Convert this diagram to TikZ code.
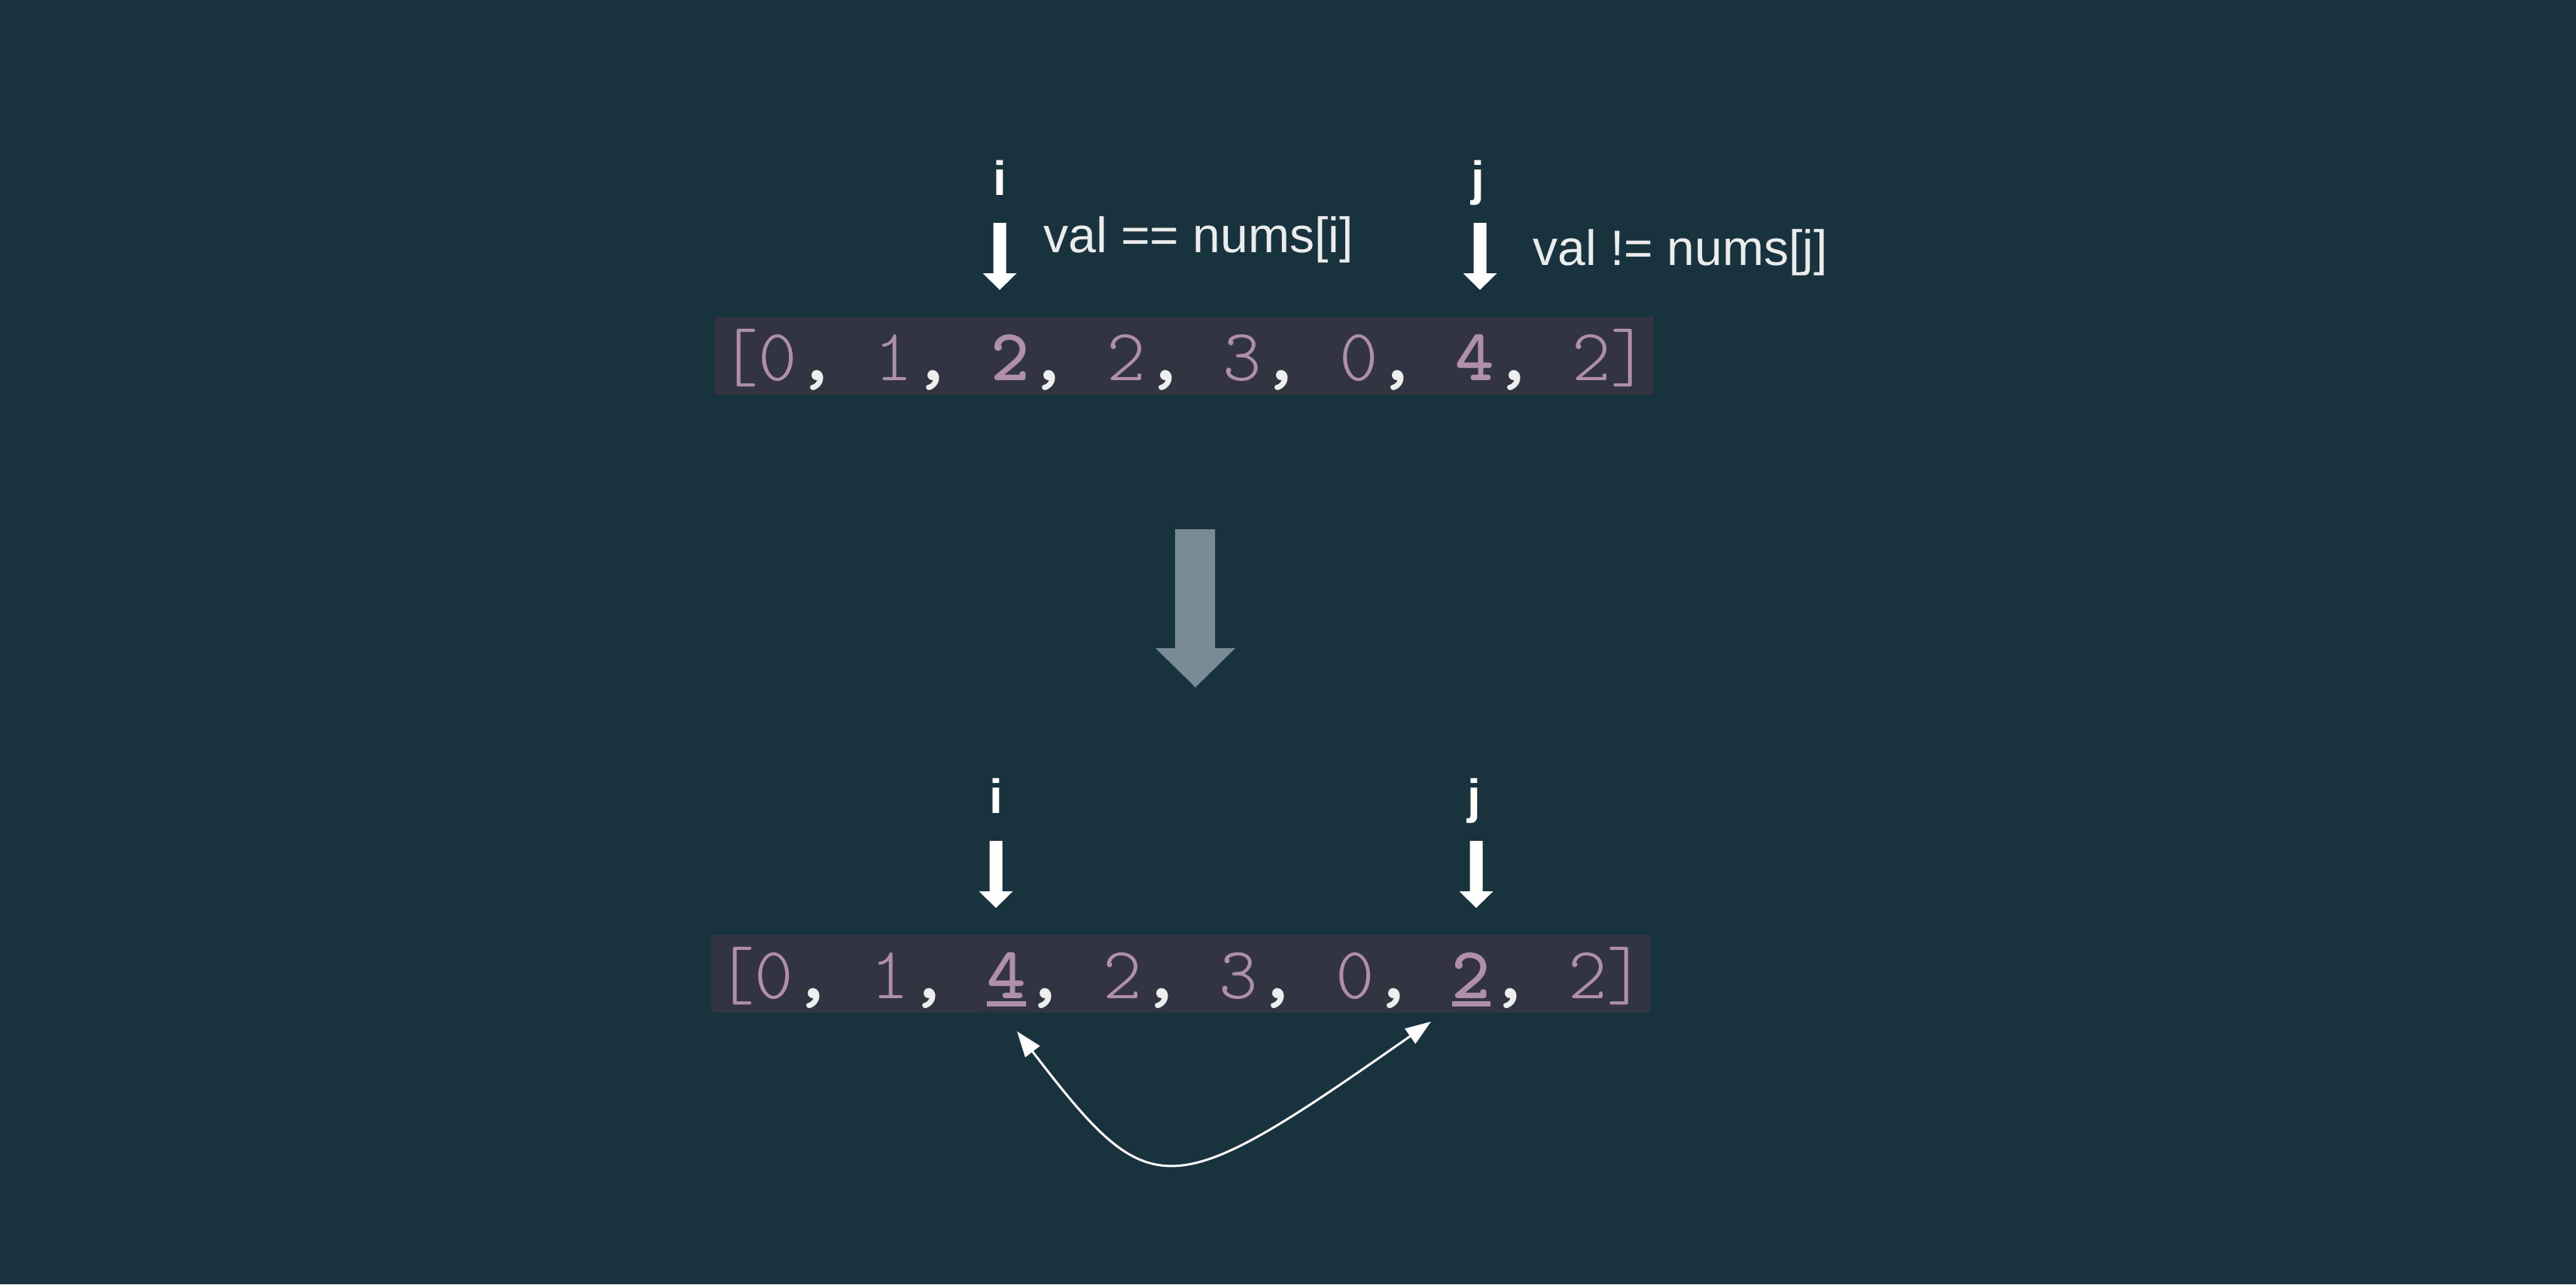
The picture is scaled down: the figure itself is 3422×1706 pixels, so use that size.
\documentclass[tikz,border=0pt]{standalone}
\usepackage{fontspec}
\newfontfamily\labfont{Liberation Sans}
\usetikzlibrary{arrows.meta}
\definecolor{bgc}{RGB}{24,51,61}
\definecolor{boxc}{RGB}{50,52,66}
\definecolor{numc}{RGB}{175,143,172}
\definecolor{comc}{RGB}{238,238,238}
\definecolor{labc}{RGB}{236,236,236}
\definecolor{bigc}{RGB}{121,140,149}
\newcommand\cm{\textcolor{comc}{\bfseries,}}
\newcommand\ulb[1]{\rlap{\raisebox{-2.75pt}{\rule{0.525em}{1.75pt}}}\textbf{#1}}
\begin{document}
\begin{tikzpicture}[x=0.25pt,y=-0.25pt,
  lab/.style={font=\labfont\fontsize{16.5}{18}\selectfont, text=labc, inner sep=0pt, anchor=base west},
  ptr/.style={font=\labfont\bfseries\fontsize{16}{18}\selectfont, text=white, inner sep=0pt, anchor=base},
  arrbox/.style={fill=boxc, draw=none, minimum width=311.75pt, minimum height=25.75pt, inner sep=0pt},
  arrtxt/.style={font=\ttfamily\fontsize{24.5}{26}\fontseries{l}\selectfont, text=numc, inner sep=0pt, anchor=base},
  ptrarrow/.pic={\fill[white] (-8.5,0) -- (8.5,0) -- (8.5,67) -- (22.5,67) -- (0,89) -- (-22.5,67) -- (-8.5,67) -- cycle;},
  swap/.style={draw=white, line width=0.75pt, {Triangle[length=8.5pt,width=6pt]}-{Triangle[length=8.5pt,width=6pt]}}
]
\fill[bgc] (0,0) rectangle (3422,1706);
\useasboundingbox (0,0) rectangle (3422,1706);

% top state
\node[ptr] (li1) at (1328,259) {i};
\node[ptr] (lj1) at (1963,259) {j};
\pic at (1328,296) {ptrarrow};
\pic at (1966,296) {ptrarrow};
\node[lab] (c1) at (1386,335) {val == nums[i]};
\node[lab] (c2) at (2036,352) {val != nums[j]};
\node[arrbox] (b1) at (1573.5,472.5) {};
\node[arrtxt] (t1) at (1573.5,505) {[0\cm{} 1\cm{} \textbf{2}\cm{} 2\cm{} 3\cm{} 0\cm{} \textbf{4}\cm{} 2]};

% big arrow
\fill[bigc] (1561,703) -- (1614,703) -- (1614,861) -- (1641,861) -- (1588,913) -- (1535,861) -- (1561,861) -- cycle;

% bottom state
\node[ptr] (li2) at (1323,1080) {i};
\node[ptr] (lj2) at (1958,1080) {j};
\pic at (1323,1117) {ptrarrow};
\pic at (1961,1117) {ptrarrow};
\node[arrbox] (b2) at (1568.5,1293.5) {};
\node[arrtxt] (t2) at (1568.5,1326) {[0\cm{} 1\cm{} \ulb{4}\cm{} 2\cm{} 3\cm{} 0\cm{} \ulb{2}\cm{} 2]};

\coordinate (s1) at (1351,1370);
\coordinate (s2) at (1901,1357);
\draw[swap] (s1) .. controls (1530,1603) and (1550,1603) .. (s2);
\end{tikzpicture}
\end{document}
